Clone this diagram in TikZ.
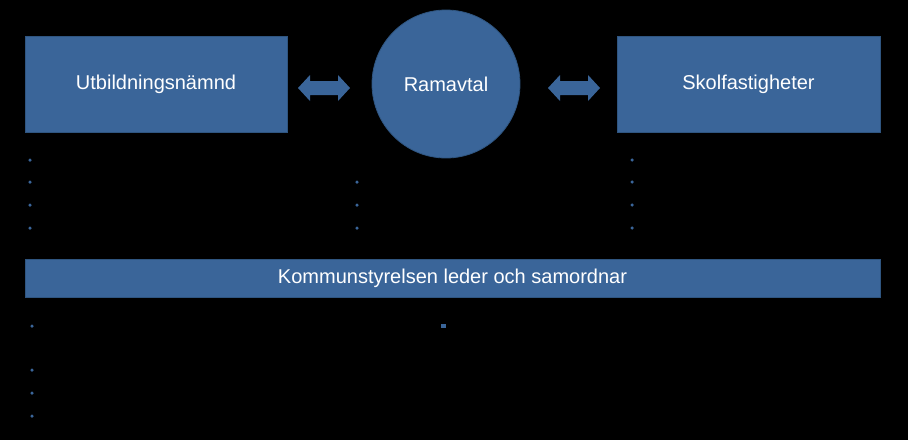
\documentclass[tikz,border=0pt]{standalone}
\usepackage{fontspec}
\setmainfont{Liberation Sans}
\definecolor{boxblue}{HTML}{3A6599}
\definecolor{edgeblue}{HTML}{2F5580}
\begin{document}
\begin{tikzpicture}[x=1pt,y=-1pt,
  box/.style={draw=edgeblue,fill=boxblue,line width=0.8pt,text=white,font=\fontsize{20}{24}\selectfont,inner sep=0pt},
  dot/.style={fill=boxblue,circle,inner sep=0pt,minimum size=3.5pt},
  pics/dblarrow/.style={code={
    \fill[boxblue] (-26,0) -- (-14,-13) -- (-14,-7) -- (14,-7) -- (14,-13) -- (26,0) -- (14,13) -- (14,7) -- (-14,7) -- (-14,13) -- cycle;}}]
\fill[black] (0,0) rectangle (908,440);
\useasboundingbox (0,0) rectangle (908,440);
\node[box,minimum width=262pt,minimum height=96pt] (u) at (156,84) {Utbildningsnämnd};
\node[box,circle,minimum size=148pt] (r) at (446,84) {Ramavtal};
\node[box,minimum width=263pt,minimum height=96pt] (s) at (748.5,84) {Skolfastigheter};
\node[box,minimum width=855pt,minimum height=38pt] (k) at (452.5,278) {Kommunstyrelsen leder och samordnar};
\coordinate (a1) at (324,88); \coordinate (a2) at (574,88);
\pic at (a1) {dblarrow};
\pic at (a2) {dblarrow};
\foreach \y in {160,182,205,228}{\node[dot] at (30,\y) {}; \node[dot] at (632,\y) {};}
\foreach \y in {182,205,228}{\node[dot] at (357,\y) {};}
\foreach \y in {326,370,393,416}{\node[dot] at (32,\y) {};}
\node[fill=boxblue,inner sep=0pt,minimum width=5pt,minimum height=3.5pt] at (443,326) {};
\end{tikzpicture}
\end{document}
